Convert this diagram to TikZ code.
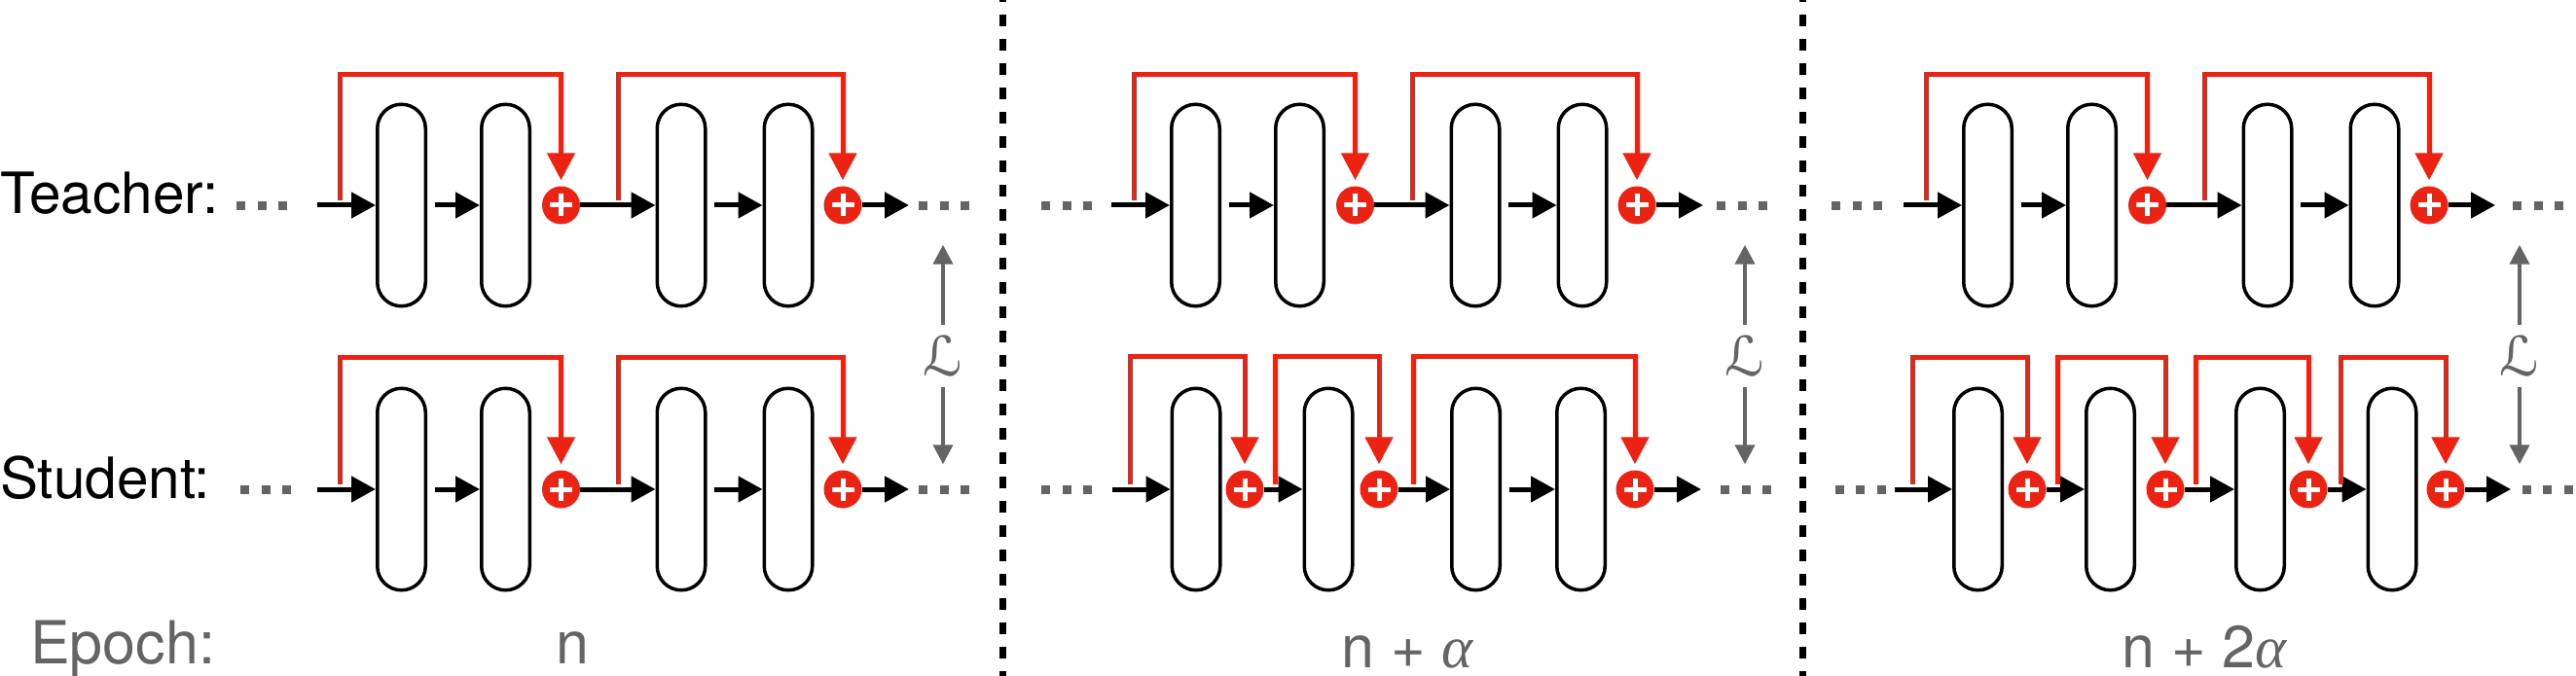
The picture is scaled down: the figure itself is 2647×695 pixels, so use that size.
\documentclass[tikz,border=0pt]{standalone}
\usepackage{fontspec}
\setmainfont{TeX Gyre Heros}
\newfontfamily\greekfont{Liberation Serif}
\newfontfamily\lossfont{DejaVu Sans}
\usetikzlibrary{arrows.meta}

\definecolor{residred}{RGB}{236,34,18}
\definecolor{lossgray}{RGB}{100,100,100}

\newcommand{\lossL}{{\fontsize{56}{56}\lossfont ℒ}}
\newcommand{\alphait}{{\greekfont\itshape α}}
\newcommand{\moredots}{\rule{9pt}{9pt}\hspace{12.5pt}\rule{9pt}{9pt}\hspace{12.5pt}\rule{9pt}{9pt}}

\tikzset{
  convblock/.style={draw, line width=3.5pt, rounded corners=24.75pt, minimum width=49.5pt,
    minimum height=207.5pt, inner sep=0pt},
  addop/.style={circle, fill=residred, minimum size=39pt, inner sep=0pt,
    path picture={\draw[white, line width=5pt]
      ([xshift=-11.5pt]path picture bounding box.center) -- ([xshift=11.5pt]path picture bounding box.center)
      ([yshift=-11.5pt]path picture bounding box.center) -- ([yshift=11.5pt]path picture bounding box.center);}},
  ellip/.style={text=lossgray, inner sep=0pt},
  fwd/.style={->, line width=5pt},
  residual/.style={-{Triangle[length=28pt,width=28pt]}, residred, line width=5pt, shorten >=6pt},
  lossarrow/.style={-{Triangle[length=20pt,width=20pt]}, lossgray, line width=4pt},
  lossname/.style={text=lossgray, inner sep=0pt, minimum height=64pt},
  epochsep/.style={line width=7pt, dash pattern=on 12pt off 13pt, dash phase=10pt},
  rowname/.style={anchor=base west, inner sep=0pt},
  epochname/.style={anchor=base, inner sep=0pt, text=lossgray, font=\fontsize{61}{62}\selectfont},
}

\begin{document}
\begin{tikzpicture}[x=1pt, y=-1pt, >={Triangle[length=25pt,width=26pt]},
    font=\fontsize{58.5}{60}\selectfont]
    \useasboundingbox (0,0) rectangle (2647,695);

    % Row names
    \node[rowname] (teacher) at (0,220) {Teacher:};
    \node[rowname] (student) at (0,512) {Student:};
    \node[rowname, text=lossgray, font=\fontsize{61}{62}\selectfont] (epoch) at (31,682) {Epoch:};

    % Dashed lines between the epochs
    \draw[epochsep] (1030.5,0) -- (1030.5,695);
    \draw[epochsep] (1852,0) -- (1852,695);

    % Rows with one skip over every two blocks
    \foreach \row/\dx/\y/\top/\dl/\dr in {t1/0/211/77/269/970, s1/0/503/367/273/970,
        t2/816/211/77/1096/1790, t3/1630/211/77/1908/2608} {
      \foreach \b/\x in {a/412.5, b/519.5, c/700, d/810}
        \node[convblock] (\row-\b) at (\dx+\x,\y) {};
      \node[addop] (\row-p) at (\dx+576.5,\y) {};
      \node[addop] (\row-q) at (\dx+866,\y) {};
      \node[ellip] (\row-L) at (\dl,\y) {\moredots};
      \node[ellip] (\row-R) at (\dr,\y) {\moredots};
      \coordinate (\row-in) at (\dx+326,\y);
      \coordinate (\row-out) at (\dx+934,\y);
      \coordinate (\row-top) at (0,\top);
      \coordinate (\row-kp) at (\dx+349.5,\y-5);
      \coordinate (\row-kq) at (\dx+635,\y-5);
      \draw[fwd] (\row-in) -- (\row-a);
      \draw[fwd, shorten <=7.5pt] (\row-a) -- (\row-b);
      \draw[fwd] (\row-p) -- (\row-c);
      \draw[fwd, shorten <=7.5pt] (\row-c) -- (\row-d);
      \draw[fwd] (\row-q) -- (\row-out);
      \draw[residual] (\row-kp) |- (\row-top -| \row-p) -- (\row-p);
      \draw[residual] (\row-kq) |- (\row-top -| \row-q) -- (\row-q);
    }

    % Student at n + alpha: the first two blocks get a skip each
    \foreach \b/\x in {a/1229, b/1365, c/1516.5, d/1624.5}
      \node[convblock] (s2-\b) at (\x,503) {};
    \foreach \p/\x in {p/1279, q/1417, r/1680}
      \node[addop] (s2-\p) at (\x,503) {};
    \node[ellip] (s2-L) at (1096,503) {\moredots};
    \node[ellip] (s2-R) at (1794,503) {\moredots};
    \coordinate (s2-in) at (1143,503);
    \coordinate (s2-out) at (1748,503);
    \coordinate (s2-top) at (0,366);
    \draw[fwd] (s2-in) -- (s2-a);
    \draw[fwd] (s2-p) -- (s2-b);
    \draw[fwd] (s2-q) -- (s2-c);
    \draw[fwd, shorten <=7.5pt] (s2-c) -- (s2-d);
    \draw[fwd] (s2-r) -- (s2-out);
    \foreach \p/\x in {p/1161, q/1310, r/1452} {
      \coordinate (s2-k\p) at (\x,498);
      \draw[residual] (s2-k\p) |- (s2-top -| s2-\p) -- (s2-\p);
    }

    % Student at n + 2 alpha: every block gets its own skip
    \foreach \b/\x in {a/2032.5, b/2168.5, c/2322.5, d/2458}
      \node[convblock] (s3-\b) at (\x,503) {};
    \foreach \p/\x in {p/2083, q/2225, r/2372, s/2513}
      \node[addop] (s3-\p) at (\x,503) {};
    \node[ellip] (s3-L) at (1911.5,503) {\moredots};
    \node[ellip] (s3-R) at (2617.5,503) {\moredots};
    \coordinate (s3-in) at (1947,503);
    \coordinate (s3-out) at (2580,503);
    \coordinate (s3-top) at (0,367);
    \draw[fwd] (s3-in) -- (s3-a);
    \draw[fwd] (s3-p) -- (s3-b);
    \draw[fwd] (s3-q) -- (s3-c);
    \draw[fwd] (s3-r) -- (s3-d);
    \draw[fwd] (s3-s) -- (s3-out);
    \foreach \p/\x in {p/1965, q/2114, r/2256, s/2405} {
      \coordinate (s3-k\p) at (\x,498);
      \draw[residual] (s3-k\p) |- (s3-top -| s3-\p) -- (s3-\p);
    }

    % Loss between teacher and student outputs
    \foreach \tr/\st/\x in {t1/s1/969, t2/s2/1793, t3/s3/2589} {
      \node[lossname] (\tr-loss) at (\x,366) {\lossL};
      \draw[lossarrow, shorten >=36pt] (\tr-loss.north) -- (\tr-loss.north |- \tr-R.south);
      \draw[lossarrow, shorten >=21pt] (\tr-loss.south) -- (\tr-loss.south |- \st-R.north);
    }

    % Epochs
    \node[epochname] (ep0) at (588,682) {n};
    \node[epochname] (ep1) at (1446,686) {n + \alphait};
    \node[epochname] (ep2) at (2265,686) {n + 2\alphait};
\end{tikzpicture}
\end{document}
